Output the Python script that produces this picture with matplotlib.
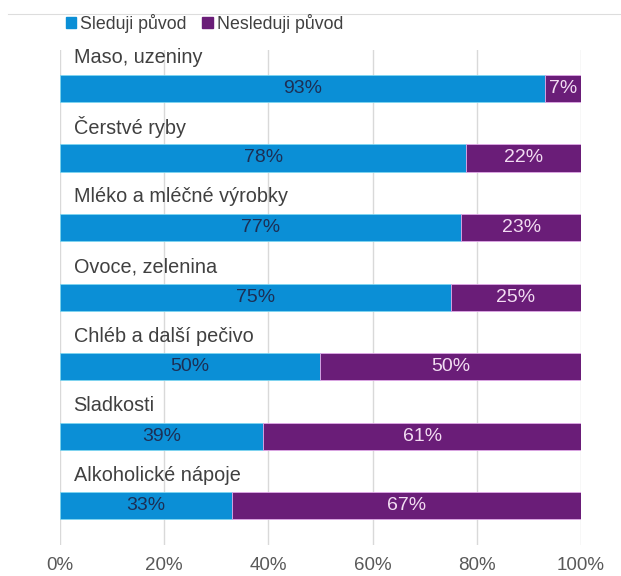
import matplotlib
matplotlib.use('AGG')
import matplotlib.pyplot as plt
from matplotlib.patches import Patch
from matplotlib.lines import Line2D

plt.rcParams['font.family'] = ['Liberation Sans', 'DejaVu Sans']

categories = ['Maso, uzeniny', 'Čerstvé ryby', 'Mléko a mléčné výrobky',
              'Ovoce, zelenina', 'Chléb a další pečivo', 'Sladkosti',
              'Alkoholické nápoje']
sleduji = [93, 78, 77, 75, 50, 39, 33]
nesleduji = [7, 22, 23, 25, 50, 61, 67]
ticks = [0, 20, 40, 60, 80, 100]

blue = '#0b8fd6'
purple = '#6a1d78'

fig = plt.figure(figsize=(6.21, 5.76), dpi=100)
ax = fig.add_axes([0.0966, 0.054, 0.839, 0.859])

ypos = list(range(len(categories)))
ax.barh(ypos, sleduji, height=0.39, color=blue, edgecolor='#7fd6f0', linewidth=0.6)
ax.barh(ypos, nesleduji, left=sleduji, height=0.39, color=purple,
        edgecolor='#e0a8e8', linewidth=0.6)

for i, name in enumerate(categories):
    ax.text(2.6, i - 0.44, name, ha='left', va='center', fontsize=14.3, color='#404040')
    ax.text(sleduji[i] / 2, i, f'{sleduji[i]}%', ha='center', va='center',
            fontsize=14, color='#1c2f55')
    ax.text(sleduji[i] + nesleduji[i] / 2, i, f'{nesleduji[i]}%', ha='center',
            va='center', fontsize=14, color='#f2dcf2')

ax.set_xlim(0, 100)
ax.set_ylim(6.56, -0.55)
ax.set_xticks(ticks)
ax.set_xticklabels([f'{t}%' for t in ticks], fontsize=13.5, color='#595959')
ax.set_yticks([])
ax.tick_params(axis='x', length=0, pad=9)
ax.grid(axis='x', color='#d9d9d9', linewidth=1)
ax.set_axisbelow(True)
for s in ax.spines.values():
    s.set_visible(False)

handles = [Patch(color=blue, label='Sleduji původ'),
           Patch(color=purple, label='Nesleduji původ')]
fig.legend(handles=handles, loc='center left', bbox_to_anchor=(0.08, 0.96),
           ncol=2, frameon=False, fontsize=12.8, handlelength=0.6, handleheight=0.6,
           handletextpad=0.2, columnspacing=0.9, labelcolor='#404040')

fig.add_artist(Line2D([0.013, 1.0], [0.976, 0.976], color='#dddddd', linewidth=0.8))

fig.savefig('out.png', dpi=100)
